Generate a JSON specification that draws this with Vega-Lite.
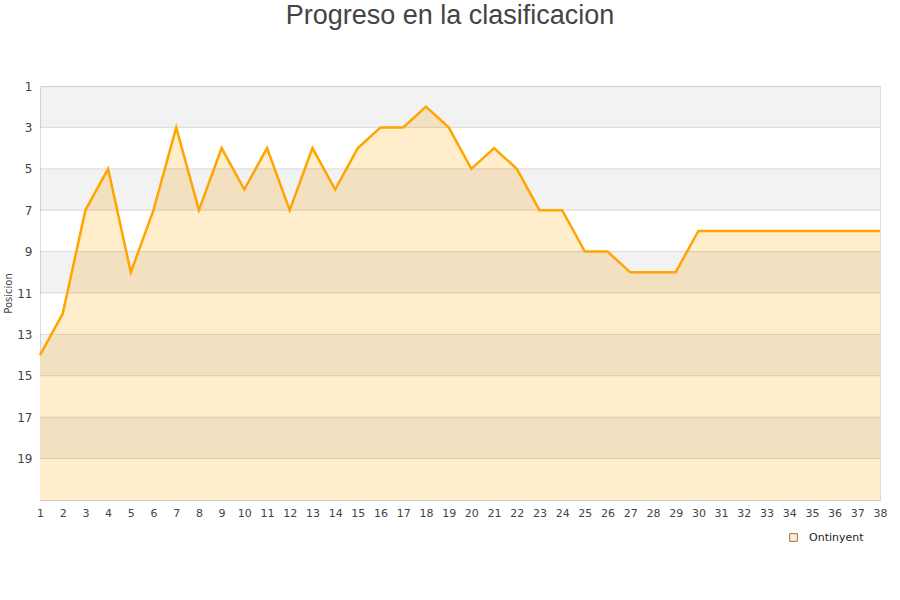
{
  "$schema": "https://vega.github.io/schema/vega-lite/v6.json",
  "width": 840,
  "height": 414,
  "autosize": {"type": "none"},
  "padding": {"left": 40, "top": 86, "right": 20, "bottom": 100},
  "background": "#ffffff",
  "title": {
    "text": "Progreso en la clasificacion",
    "font": "Liberation Sans",
    "fontSize": 27,
    "fontWeight": "normal",
    "color": "#444444",
    "anchor": "middle",
    "dx": -10,
    "offset": 50
  },
  "datasets": {
    "bands": [
      {"y1": 1, "y2": 3},
      {"y1": 5, "y2": 7},
      {"y1": 9, "y2": 11},
      {"y1": 13, "y2": 15},
      {"y1": 17, "y2": 19}
    ],
    "grid": [
      {"y": 3}, {"y": 5}, {"y": 7}, {"y": 9}, {"y": 11},
      {"y": 13}, {"y": 15}, {"y": 17}, {"y": 19}
    ],
    "progreso": [
      {"Jornada": 1, "Posicion": 14, "Equipo": "Ontinyent"},
      {"Jornada": 2, "Posicion": 12, "Equipo": "Ontinyent"},
      {"Jornada": 3, "Posicion": 7, "Equipo": "Ontinyent"},
      {"Jornada": 4, "Posicion": 5, "Equipo": "Ontinyent"},
      {"Jornada": 5, "Posicion": 10, "Equipo": "Ontinyent"},
      {"Jornada": 6, "Posicion": 7, "Equipo": "Ontinyent"},
      {"Jornada": 7, "Posicion": 3, "Equipo": "Ontinyent"},
      {"Jornada": 8, "Posicion": 7, "Equipo": "Ontinyent"},
      {"Jornada": 9, "Posicion": 4, "Equipo": "Ontinyent"},
      {"Jornada": 10, "Posicion": 6, "Equipo": "Ontinyent"},
      {"Jornada": 11, "Posicion": 4, "Equipo": "Ontinyent"},
      {"Jornada": 12, "Posicion": 7, "Equipo": "Ontinyent"},
      {"Jornada": 13, "Posicion": 4, "Equipo": "Ontinyent"},
      {"Jornada": 14, "Posicion": 6, "Equipo": "Ontinyent"},
      {"Jornada": 15, "Posicion": 4, "Equipo": "Ontinyent"},
      {"Jornada": 16, "Posicion": 3, "Equipo": "Ontinyent"},
      {"Jornada": 17, "Posicion": 3, "Equipo": "Ontinyent"},
      {"Jornada": 18, "Posicion": 2, "Equipo": "Ontinyent"},
      {"Jornada": 19, "Posicion": 3, "Equipo": "Ontinyent"},
      {"Jornada": 20, "Posicion": 5, "Equipo": "Ontinyent"},
      {"Jornada": 21, "Posicion": 4, "Equipo": "Ontinyent"},
      {"Jornada": 22, "Posicion": 5, "Equipo": "Ontinyent"},
      {"Jornada": 23, "Posicion": 7, "Equipo": "Ontinyent"},
      {"Jornada": 24, "Posicion": 7, "Equipo": "Ontinyent"},
      {"Jornada": 25, "Posicion": 9, "Equipo": "Ontinyent"},
      {"Jornada": 26, "Posicion": 9, "Equipo": "Ontinyent"},
      {"Jornada": 27, "Posicion": 10, "Equipo": "Ontinyent"},
      {"Jornada": 28, "Posicion": 10, "Equipo": "Ontinyent"},
      {"Jornada": 29, "Posicion": 10, "Equipo": "Ontinyent"},
      {"Jornada": 30, "Posicion": 8, "Equipo": "Ontinyent"},
      {"Jornada": 31, "Posicion": 8, "Equipo": "Ontinyent"},
      {"Jornada": 32, "Posicion": 8, "Equipo": "Ontinyent"},
      {"Jornada": 33, "Posicion": 8, "Equipo": "Ontinyent"},
      {"Jornada": 34, "Posicion": 8, "Equipo": "Ontinyent"},
      {"Jornada": 35, "Posicion": 8, "Equipo": "Ontinyent"},
      {"Jornada": 36, "Posicion": 8, "Equipo": "Ontinyent"},
      {"Jornada": 37, "Posicion": 8, "Equipo": "Ontinyent"},
      {"Jornada": 38, "Posicion": 8, "Equipo": "Ontinyent"}
    ]
  },
  "layer": [
    {
      "data": {"name": "progreso"},
      "mark": {"type": "area", "interpolate": "linear"},
      "encoding": {
        "x": {
          "field": "Jornada",
          "type": "ordinal",
          "scale": {"type": "point", "padding": 0},
          "axis": {
            "title": null,
            "labelAngle": 0,
            "labelFontSize": 11,
            "labelColor": "#444444",
            "labelPadding": 7,
            "labelOverlap": false,
            "ticks": false,
            "grid": false,
            "domainColor": "#cccccc"
          }
        },
        "y": {
          "field": "Posicion",
          "type": "quantitative",
          "scale": {"domain": [1, 21], "reverse": true, "nice": false, "zero": false},
          "axis": {
            "values": [1, 3, 5, 7, 9, 11, 13, 15, 17, 19],
            "title": "Posicion",
            "titleFontSize": 10,
            "titleFontWeight": "normal",
            "titleColor": "#444444",
            "titlePadding": 3,
            "labelFontSize": 12,
            "labelColor": "#444444",
            "labelPadding": 8,
            "ticks": false,
            "domain": false,
            "grid": false
          }
        },
        "y2": {"datum": 21},
        "color": {
          "field": "Equipo",
          "type": "nominal",
          "scale": {"range": ["#ffedcc"]},
          "legend": {
            "title": null,
            "orient": "none",
            "legendX": 748,
            "legendY": 446,
            "symbolType": "square",
            "symbolSize": 60,
            "symbolStrokeColor": "#8a7a5a",
            "symbolStrokeWidth": 1,
            "symbolOpacity": 1,
            "labelFontSize": 11,
            "labelColor": "#222222",
            "labelOffset": 10
          }
        }
      }
    },
    {
      "data": {"name": "bands"},
      "mark": {"type": "rect", "color": "#000000", "opacity": 0.05},
      "encoding": {
        "y": {"field": "y1", "type": "quantitative"},
        "y2": {"field": "y2"}
      }
    },
    {
      "data": {"name": "grid"},
      "mark": {"type": "rule", "color": "#000000", "opacity": 0.12, "strokeWidth": 1},
      "encoding": {
        "y": {"field": "y", "type": "quantitative"}
      }
    },
    {
      "data": {"name": "progreso"},
      "mark": {"type": "line", "interpolate": "linear", "color": "#ffa500", "strokeWidth": 2.5},
      "encoding": {
        "x": {"field": "Jornada", "type": "ordinal"},
        "y": {"field": "Posicion", "type": "quantitative"}
      }
    }
  ],
  "config": {
    "font": "DejaVu Sans",
    "view": {"stroke": "#dddddd"},
    "axis": {"labelFont": "DejaVu Sans", "titleFont": "DejaVu Sans"}
  }
}
